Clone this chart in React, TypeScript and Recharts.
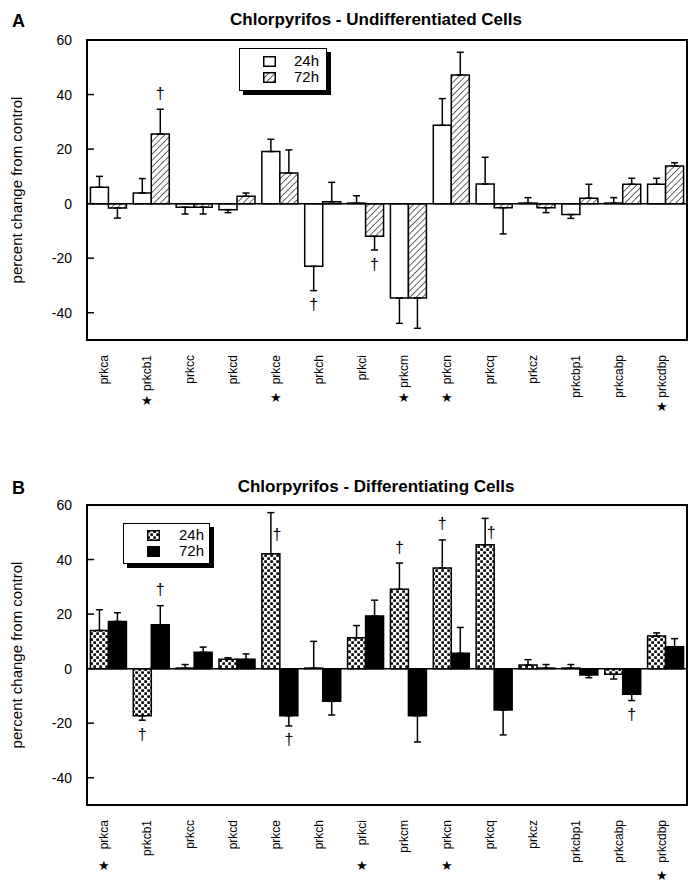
import React from 'react'
import { Bar, BarChart, ErrorBar, LabelList, ReferenceArea, ReferenceLine, XAxis, YAxis } from 'recharts'

// categories (x axis)
const genes = ['prkca', 'prkcb1', 'prkcc', 'prkcd', 'prkce', 'prkch', 'prkci', 'prkcm', 'prkcn', 'prkcq', 'prkcz', 'prkcbp1', 'prkcabp', 'prkcdbp']

// A: undifferentiated cells
const undiff24 = [6.0, 3.9, -1.3, -2.2, 19.1, -23.0, 0.2, -34.6, 28.7, 7.2, 0.2, -4.0, 0.2, 7.1]
const undiff24Err = [4.0, 5.3, 2.5, 1.1, 4.5, 8.9, 2.7, 9.3, 9.8, 9.8, 2.0, 1.4, 2.0, 2.2]
const undiff72 = [-1.6, 25.5, -1.3, 2.7, 11.2, 0.7, -12.0, -34.6, 47.2, -1.5, -1.5, 2.0, 7.1, 13.8]
const undiff72Err = [3.7, 9.1, 2.5, 1.2, 8.5, 7.1, 5.0, 11.1, 8.3, 9.6, 1.8, 5.1, 2.2, 1.2]
// dagger marks: a = above, b = below, r = beside the error bar
const undiff24Mark = ['', '', '', '', '', 'b', '', '', '', '', '', '', '', '']
const undiff72Mark = ['', 'a', '', '', '', '', 'b', '', '', '', '', '', '', '']
const undiffStar = [0, 1, 0, 0, 1, 0, 0, 1, 1, 0, 0, 0, 0, 1]

// B: differentiating cells
const diff24 = [14.0, -17.3, 0.2, 3.4, 42.1, 0.2, 11.3, 29.1, 36.9, 45.4, 1.3, 0.2, -2.1, 12.0]
const diff24Err = [7.6, 1.6, 1.3, 0.6, 15.1, 9.8, 4.5, 9.6, 10.3, 9.7, 2.0, 1.3, 1.7, 1.1]
const diff72 = [17.3, 16.1, 6.0, 3.4, -17.3, -12.0, 19.3, -17.3, 5.6, -15.2, 0.2, -2.3, -9.4, 8.0]
const diff72Err = [3.2, 7.0, 1.9, 2.0, 3.7, 5.0, 5.8, 9.6, 9.5, 9.1, 1.3, 1.0, 2.3, 3.0]
const diff24Mark = ['', 'b', '', '', 'r', '', '', 'a', 'a', 'r', '', '', '', '']
const diff72Mark = ['', 'a', '', '', 'b', '', '', '', '', '', '', '', 'b', '']
const diffStar = [1, 0, 0, 0, 0, 0, 1, 0, 1, 0, 0, 0, 0, 1]

const yTicks = [-40, -20, 0, 20, 40, 60]
const Y_MIN = -50
const Y_MAX = 60

const FONT = '"Liberation Sans", Arial, Helvetica, sans-serif'
const PLOT_LEFT = 87
const PLOT_H = 300
const PX_PER_UNIT = PLOT_H / (Y_MAX - Y_MIN)

// rough Arial widths (em) for estimating label length
const charW: Record<string, number> = {
  p: 0.556, r: 0.333, k: 0.5, c: 0.5, a: 0.556, b: 0.556, '1': 0.556, d: 0.556,
  e: 0.556, h: 0.556, i: 0.222, m: 0.833, n: 0.556, q: 0.556, z: 0.5,
}

function buildRows(v24: number[], e24: number[], v72: number[], e72: number[]) {
  return genes.map((gene, i) => ({
    gene,
    h24: v24[i],
    h72: v72[i],
    err24: v24[i] >= 0 ? [0, e24[i]] : [e24[i], 0],
    err72: v72[i] >= 0 ? [0, e72[i]] : [e72[i], 0],
  }))
}

function daggerLabel(errors: number[], marks: string[]) {
  return (props: any) => {
    const index = genes.indexOf(String(props.value))
    const mark = marks[index]
    if (!mark) return null
    const vb = props.viewBox ?? props
    const x = Number(vb.x)
    const y = Number(vb.y)
    const w = Number(vb.width)
    const h = Number(vb.height)
    const cx = x + w / 2
    const top = Math.min(y, y + h)
    const bottom = Math.max(y, y + h)
    const errPx = errors[index] * PX_PER_UNIT
    let tx = cx
    let ty = 0
    if (mark === 'a') ty = top - errPx - 16
    else if (mark === 'b') ty = bottom + errPx + 14
    else {
      tx = cx + 6
      ty = top - errPx / 2 + 1
    }
    return (
      <text key={`dg-${index}`} x={tx} y={ty} textAnchor="middle" dominantBaseline="central" fontSize={16} fontFamily={FONT} fill="#000">
        †
      </text>
    )
  }
}

function ValueTick(props: any) {
  const { y, payload } = props
  return (
    <g>
      <line x1={PLOT_LEFT} x2={PLOT_LEFT + 7} y1={y} y2={y} stroke="#000" strokeWidth={1.5} />
      <text x={PLOT_LEFT - 15} y={y} textAnchor="end" dominantBaseline="central" fontSize={14} fontFamily={FONT} fill="#000">
        {payload.value}
      </text>
    </g>
  )
}

function geneTick(baseY: number, stars: number[], starMin: number, starGap: number) {
  return (props: any) => {
    const { x, payload, index } = props
    const label = String(payload.value)
    const len = label.split('').reduce((s, ch) => s + (charW[ch] ?? 0.556), 0) * 12
    const starY = baseY + Math.max(len + starGap, starMin)
    return (
      <g key={`gt-${index}`}>
        <text
          x={x}
          y={baseY}
          transform={`rotate(-90, ${x}, ${baseY})`}
          textAnchor="end"
          fontSize={12}
          fontFamily={FONT}
          fill="#000"
        >
          {label}
        </text>
        {stars[index] ? (
          <text x={x - 4} y={starY} textAnchor="middle" dominantBaseline="central" fontSize={13} fill="#000">
            ★
          </text>
        ) : null}
      </g>
    )
  }
}

function YLabel({ cy }: { cy: number }) {
  return (
    <text x={22} y={cy} transform={`rotate(-90, 22, ${cy})`} textAnchor="middle" fontSize={15} fontFamily={FONT} fill="#000">
      percent change from control
    </text>
  )
}

function Patterns({ prefix }: { prefix: string }) {
  return (
    <defs>
      <pattern id={`${prefix}-hatch`} width={4.5} height={4.5} patternUnits="userSpaceOnUse" patternTransform="rotate(45)">
        <rect width={4.5} height={4.5} fill="#fff" />
        <line x1={0} y1={0} x2={0} y2={4.5} stroke="#000" strokeWidth={1.2} />
      </pattern>
      <pattern id={`${prefix}-dots`} width={6} height={6} patternUnits="userSpaceOnUse">
        <rect width={6} height={6} fill="#fff" />
        <rect x={0.3} y={0.3} width={2.6} height={2.6} fill="#000" />
        <rect x={3.3} y={3.3} width={2.6} height={2.6} fill="#000" />
      </pattern>
    </defs>
  )
}

function LegendBox({ left, top, width, height, swatchLeft, textLeft, rowTops, fills, prefix }: any) {
  return (
    <div
      style={{
        position: 'absolute',
        left,
        top,
        width,
        height,
        boxSizing: 'border-box',
        border: '1.5px solid #000',
        boxShadow: '4px 4px 0 #000',
        background: '#fff',
        fontFamily: FONT,
        fontSize: 15,
      }}
    >
      {['24h', '72h'].map((lab, i) => (
        <React.Fragment key={lab}>
          <svg style={{ position: 'absolute', left: swatchLeft, top: rowTops[i] }} width={13} height={11}>
            <Patterns prefix={`${prefix}${i}`} />
            <rect
              x={0.75}
              y={0.75}
              width={11.5}
              height={9.5}
              fill={fills[i] === 'black' ? '#000' : fills[i] === 'white' ? '#fff' : `url(#${prefix}${i}-${fills[i]})`}
              stroke="#000"
              strokeWidth={1.5}
            />
          </svg>
          <span style={{ position: 'absolute', left: textLeft, top: rowTops[i] - 4, lineHeight: '17px' }}>{lab}</span>
        </React.Fragment>
      ))}
    </div>
  )
}

interface PanelProps {
  prefix: string
  rows: any[]
  e24: number[]
  e72: number[]
  m24: string[]
  m72: string[]
  stars: number[]
  fill24: string
  fill72: string
  height: number
  top: number
  xAxisHeight: number
  starMin: number
  starGap: number
}

function Panel(p: PanelProps) {
  const plotBottom = p.height - p.xAxisHeight
  return (
    <BarChart
      width={699}
      height={p.height}
      data={p.rows}
      margin={{ top: p.top, right: 12, bottom: 0, left: 0 }}
      barCategoryGap="8%"
      barGap={0}
    >
      <Patterns prefix={p.prefix} />
      <XAxis
        dataKey="gene"
        interval={0}
        axisLine={false}
        tickLine={false}
        height={p.xAxisHeight}
        tick={geneTick(plotBottom + 15, p.stars, p.starMin, p.starGap)}
      />
      <YAxis
        domain={[Y_MIN, Y_MAX]}
        ticks={yTicks}
        width={PLOT_LEFT}
        axisLine={false}
        tickLine={false}
        tick={<ValueTick />}
        label={<YLabel cy={p.top + PLOT_H / 2} />}
      />
      <ReferenceArea y1={Y_MIN} y2={Y_MAX} fill="none" stroke="#000" strokeWidth={2} ifOverflow="visible" />
      <Bar dataKey="h24" fill={p.fill24} stroke="#000" strokeWidth={1.5} isAnimationActive={false}>
        <ErrorBar dataKey="err24" width={3.5} stroke="#000" strokeWidth={1.5} />
        <LabelList dataKey="gene" content={daggerLabel(p.e24, p.m24)} />
      </Bar>
      <Bar dataKey="h72" fill={p.fill72} stroke="#000" strokeWidth={1.5} isAnimationActive={false}>
        <ErrorBar dataKey="err72" width={3.5} stroke="#000" strokeWidth={1.5} />
        <LabelList dataKey="gene" content={daggerLabel(p.e72, p.m72)} />
      </Bar>
      <ReferenceLine y={0} stroke="#000" strokeWidth={1.5} />
    </BarChart>
  )
}

export default function App() {
  const rowsA = buildRows(undiff24, undiff24Err, undiff72, undiff72Err)
  const rowsB = buildRows(diff24, diff24Err, diff72, diff72Err)
  return (
    <div style={{ position: 'absolute', left: 0, top: 0, width: 699, height: 882, background: '#fff', fontFamily: FONT }}>
      <div style={{ position: 'absolute', left: 0, top: 0 }}>
        <Panel
          prefix="pa"
          rows={rowsA}
          e24={undiff24Err}
          e72={undiff72Err}
          m24={undiff24Mark}
          m72={undiff72Mark}
          stars={undiffStar}
          fill24="#fff"
          fill72="url(#pa-hatch)"
          height={440}
          top={40}
          xAxisHeight={100}
          starMin={42}
          starGap={9}
        />
      </div>
      <div style={{ position: 'absolute', left: 0, top: 440 }}>
        <Panel
          prefix="pb"
          rows={rowsB}
          e24={diff24Err}
          e72={diff72Err}
          m24={diff24Mark}
          m72={diff72Mark}
          stars={diffStar}
          fill24="url(#pb-dots)"
          fill72="#000"
          height={442}
          top={65}
          xAxisHeight={77}
          starMin={45}
          starGap={13}
        />
      </div>
      <svg style={{ position: 'absolute', left: 0, top: 0, pointerEvents: 'none' }} width={699} height={882}>
        <text x={12} y={27} fontSize={18} fontWeight="bold" fontFamily={FONT} fill="#000">A</text>
        <text x={376} y={25} textAnchor="middle" fontSize={17} fontWeight="bold" fontFamily={FONT} fill="#000">
          Chlorpyrifos - Undifferentiated Cells
        </text>
        <text x={12} y={494} fontSize={18} fontWeight="bold" fontFamily={FONT} fill="#000">B</text>
        <text x={376} y={492} textAnchor="middle" fontSize={17} fontWeight="bold" fontFamily={FONT} fill="#000">
          Chlorpyrifos - Differentiating Cells
        </text>
      </svg>
      <LegendBox
        left={239}
        top={48}
        width={88}
        height={43}
        swatchLeft={23}
        textLeft={54}
        rowTops={[7, 23]}
        fills={['white', 'hatch']}
        prefix="la"
      />
      <LegendBox
        left={123}
        top={523}
        width={87}
        height={41}
        swatchLeft={23}
        textLeft={55}
        rowTops={[6, 22]}
        fills={['dots', 'black']}
        prefix="lb"
      />
    </div>
  )
}
